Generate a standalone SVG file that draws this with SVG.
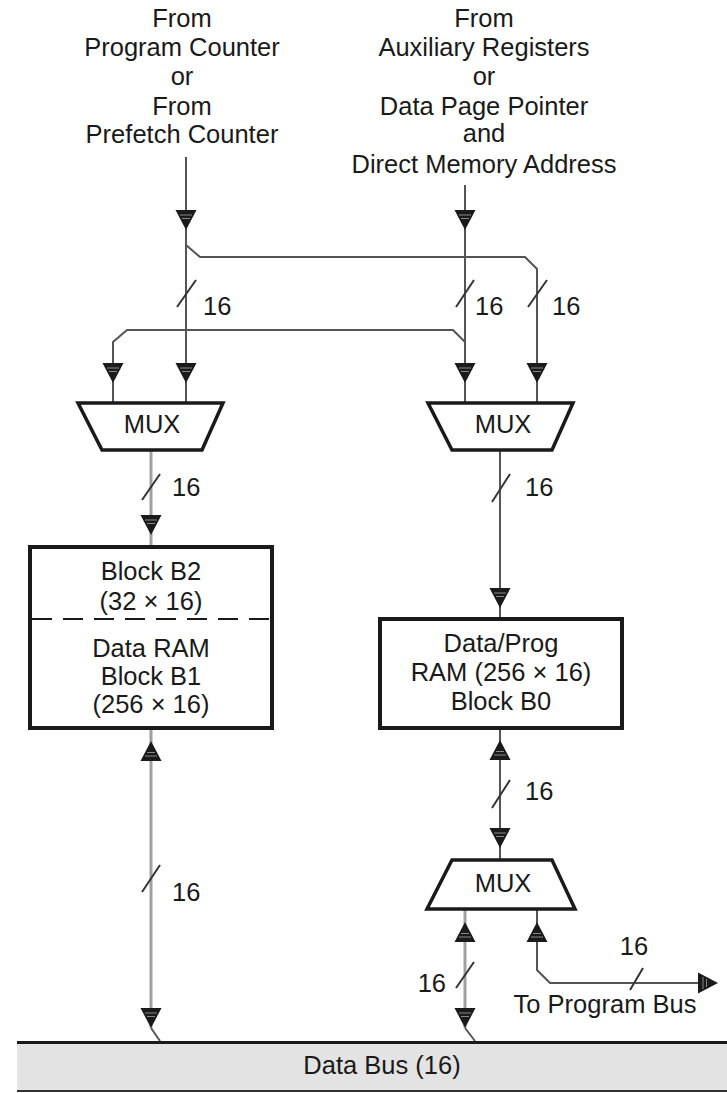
<svg xmlns="http://www.w3.org/2000/svg" width="727" height="1093" viewBox="0 0 727 1093">
<style>
text{font-family:"Liberation Sans",Arial,sans-serif;font-size:25.5px;fill:#1a1a1a}
.m{text-anchor:middle}
.c1{fill:none;stroke:#555;stroke-width:2}
.c2{fill:none;stroke:#a0a0a0;stroke-width:3}
.sl{stroke:#333;stroke-width:2;fill:none}
.box{fill:#fff;stroke:#1a1a1a;stroke-width:4}
.mux{fill:#fff;stroke:#1a1a1a;stroke-width:3.5;stroke-linejoin:miter}
</style>
<defs>
<g id="ad">
<polygon points="-10.5,0 10.5,0 0,20" fill="#1a1a1a"/>
<line x1="-6" y1="5" x2="6" y2="5" stroke="#888" stroke-width="1"/>
<line x1="-4" y1="8.5" x2="4" y2="8.5" stroke="#888" stroke-width="1"/>
</g>
</defs>
<g id="label-left">
<text class="m" x="182" y="27">From</text>
<text class="m" x="182" y="56">Program Counter</text>
<text class="m" x="182" y="85">or</text>
<text class="m" x="182" y="115">From</text>
<text class="m" x="182" y="143">Prefetch Counter</text>
</g>
<g id="label-right">
<text class="m" x="484" y="27">From</text>
<text class="m" x="484" y="56">Auxiliary Registers</text>
<text class="m" x="484" y="85">or</text>
<text class="m" x="484" y="115">Data Page Pointer</text>
<text class="m" x="484" y="142">and</text>
<text class="m" x="484" y="173">Direct Memory Address</text>
</g>
<g id="connectors">
<path class="c1" d="M186,157 V402"/>
<path class="c1" d="M186,245 L200,257 H525 L537,269 V402"/>
<path class="c1" d="M465,185 V402"/>
<path class="c1" d="M465,342 L453,330 H127 L113,342 V402"/>
<path class="c2" d="M151,451 V547"/>
<path class="c1" d="M500,450 V619"/>
<path class="c2" d="M151,728 V1028"/>
<path class="c1" d="M151,1028 L160,1041"/>
<path class="c1" d="M500,728 V860"/>
<path class="c2" d="M465,909 V1028"/>
<path class="c1" d="M465,1028 L475,1041"/>
<path class="c1" d="M537,909 V970 L550,983 H700"/>
<use href="#ad" transform="translate(186,210)"/>
<use href="#ad" transform="translate(465,210)"/>
<use href="#ad" transform="translate(113,363)"/>
<use href="#ad" transform="translate(186,363)"/>
<use href="#ad" transform="translate(465,363)"/>
<use href="#ad" transform="translate(537,363)"/>
<use href="#ad" transform="translate(151,515)"/>
<use href="#ad" transform="translate(500,588)"/>
<use href="#ad" transform="translate(151,761) rotate(180)"/>
<use href="#ad" transform="translate(500,760) rotate(180)"/>
<use href="#ad" transform="translate(500,828)"/>
<use href="#ad" transform="translate(151,1008)"/>
<use href="#ad" transform="translate(465,942) rotate(180)"/>
<use href="#ad" transform="translate(537,942) rotate(180)"/>
<use href="#ad" transform="translate(465,1008)"/>
<use href="#ad" transform="translate(698,983) rotate(-90)"/>
<line class="sl" x1="177" y1="307" x2="196" y2="280"/>
<line class="sl" x1="456" y1="307" x2="474" y2="280"/>
<line class="sl" x1="528" y1="307" x2="547" y2="280"/>
<line class="sl" x1="142" y1="500" x2="160" y2="474"/>
<line class="sl" x1="492" y1="502" x2="510" y2="474"/>
<line class="sl" x1="142" y1="892" x2="160" y2="865"/>
<line class="sl" x1="492" y1="808" x2="510" y2="780"/>
<line class="sl" x1="456" y1="988" x2="474" y2="962"/>
<line class="sl" x1="630" y1="990" x2="643" y2="968"/>
<text x="203" y="315">16</text>
<text x="475" y="315">16</text>
<text x="552" y="315">16</text>
<text x="172" y="496">16</text>
<text x="525" y="496">16</text>
<text x="172" y="901">16</text>
<text x="525" y="800">16</text>
<text x="446" y="992" text-anchor="end">16</text>
<text class="m" x="634" y="955">16</text>
<text class="m" x="605" y="1013">To Program Bus</text>
</g>
<g id="mux-left">
<polygon class="mux" points="78,403 223,403 202,450 102,450"/>
<text class="m" x="152" y="433">MUX</text>
</g>
<g id="mux-right">
<polygon class="mux" points="428,403 573,403 552,450 452,450"/>
<text class="m" x="503" y="433">MUX</text>
</g>
<g id="mux-bottom">
<polygon class="mux" points="452,860 552,860 575,909 427,909"/>
<text class="m" x="503" y="892">MUX</text>
</g>
<g id="block-b2-b1">
<rect class="box" x="30" y="547" width="242" height="181"/>
<line x1="32" y1="619" x2="270" y2="619" stroke="#1a1a1a" stroke-width="2" stroke-dasharray="20 11"/>
<text class="m" x="151" y="580">Block B2</text>
<text class="m" x="151" y="610">(32 × 16)</text>
<text class="m" x="151" y="657">Data RAM</text>
<text class="m" x="151" y="685">Block B1</text>
<text class="m" x="151" y="713">(256 × 16)</text>
</g>
<g id="block-b0">
<rect class="box" x="380" y="619" width="242" height="109"/>
<text class="m" x="501" y="652">Data/Prog</text>
<text class="m" x="501" y="681">RAM (256 × 16)</text>
<text class="m" x="501" y="710">Block B0</text>
</g>
<g id="data-bus">
<rect x="17" y="1042" width="710" height="49" fill="#e3e3e3"/>
<line x1="17" y1="1042.5" x2="727" y2="1042.5" stroke="#1a1a1a" stroke-width="3"/>
<line x1="17" y1="1091" x2="727" y2="1091" stroke="#333" stroke-width="2"/>
<text class="m" x="382" y="1074">Data Bus (16)</text>
</g>
</svg>
